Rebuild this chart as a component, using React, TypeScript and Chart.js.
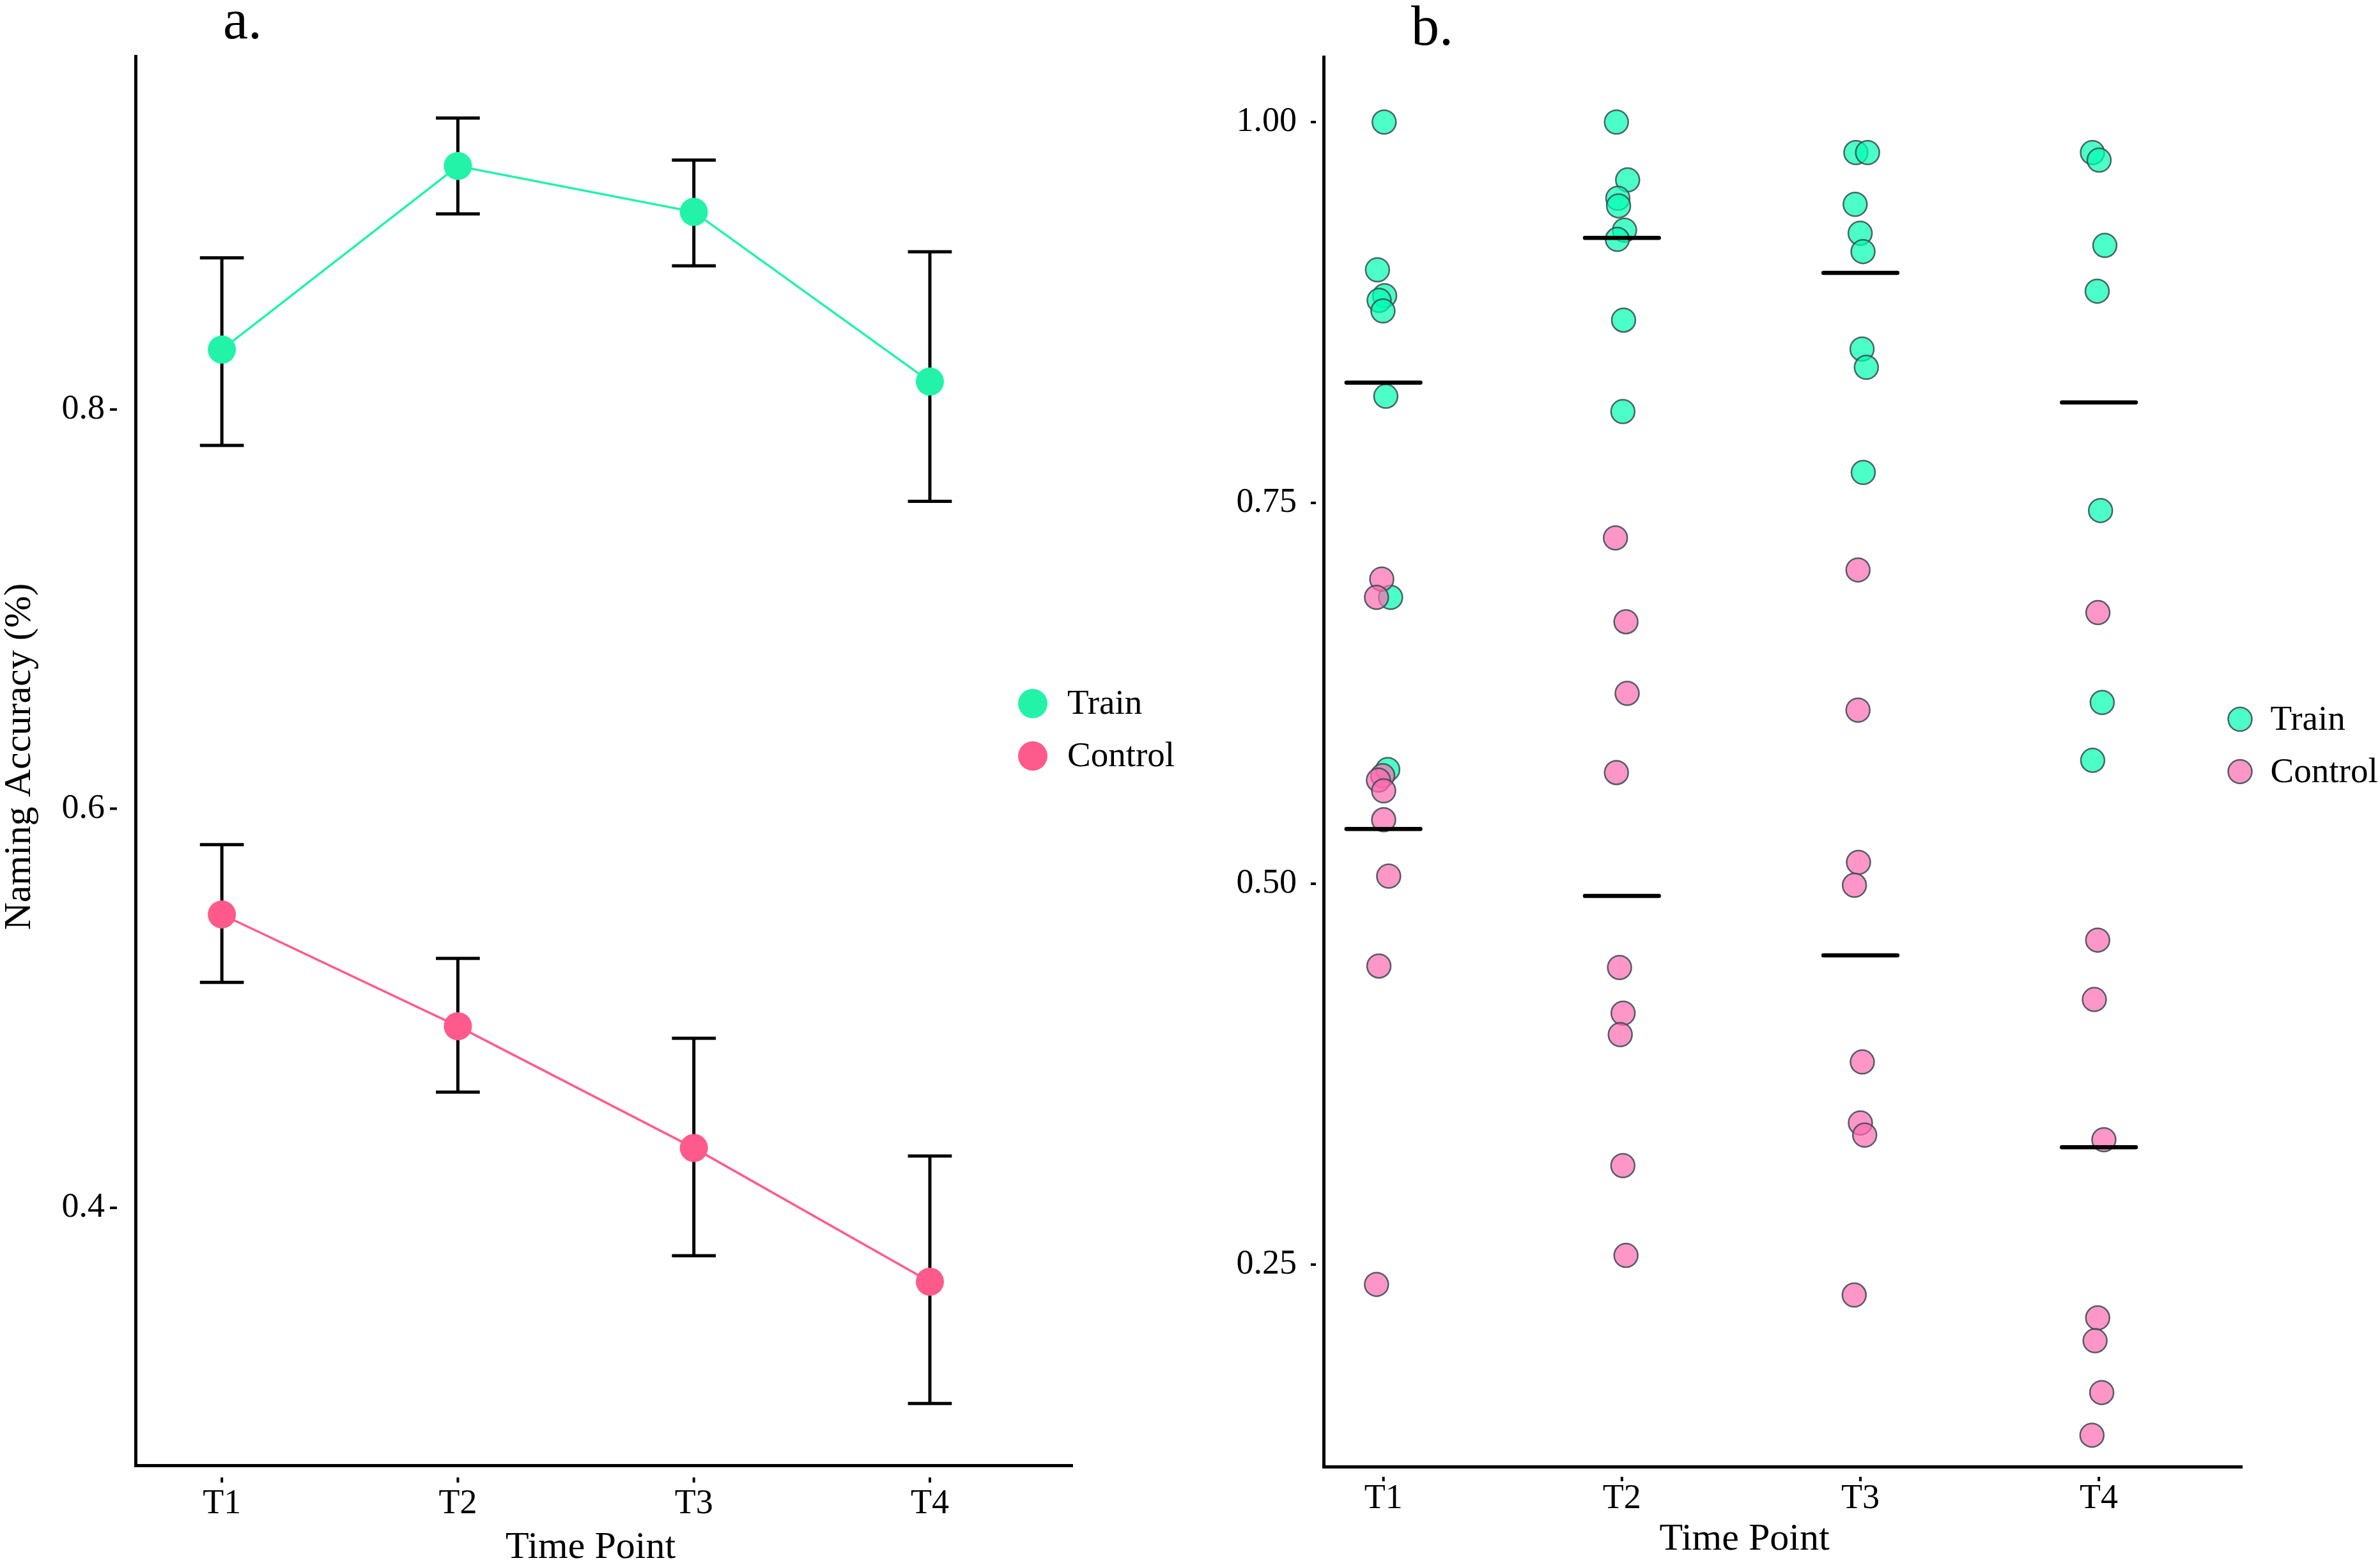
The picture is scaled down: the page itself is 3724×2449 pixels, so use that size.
import React, { useEffect, useRef } from 'react';
import { Chart, registerables } from 'chart.js';

Chart.register(...registerables);

// ---------- shared ----------
const timePoints = ['T1', 'T2', 'T3', 'T4'];
const seriesNames = ['Train', 'Control'];

// ---------- panel a : means with error bars ----------
const trainMean = [0.830, 0.922, 0.899, 0.814];
const trainLower = [0.782, 0.898, 0.872, 0.754];
const trainUpper = [0.876, 0.946, 0.925, 0.879];
const controlMean = [0.547, 0.491, 0.430, 0.363];
const controlLower = [0.513, 0.458, 0.376, 0.302];
const controlUpper = [0.582, 0.525, 0.485, 0.426];
const panelAYTicks = [0.4, 0.6, 0.8];

// ---------- panel b : individual scores ----------
const trainT1 = [1.000, 0.903, 0.886, 0.883, 0.876, 0.820, 0.688, 0.575];
const trainT1Jitter = [0.003, -0.025, 0.005, -0.018, -0.002, 0.010, 0.030, 0.018];
const trainT2 = [1.000, 0.962, 0.950, 0.945, 0.929, 0.923, 0.870, 0.810];
const trainT2Jitter = [-0.023, 0.024, -0.017, -0.014, 0.011, -0.019, 0.007, 0.004];
const trainT3 = [0.980, 0.980, 0.946, 0.927, 0.915, 0.851, 0.839, 0.770];
const trainT3Jitter = [-0.019, 0.030, -0.022, -0.001, 0.011, 0.007, 0.025, 0.012];
const trainT4 = [0.980, 0.975, 0.919, 0.889, 0.745, 0.619, 0.581];
const trainT4Jitter = [-0.027, 0.001, 0.025, -0.007, 0.007, 0.014, -0.026];

const controlT1 = [0.700, 0.688, 0.571, 0.568, 0.561, 0.542, 0.505, 0.446, 0.237];
const controlT1Jitter = [-0.007, -0.029, -0.003, -0.021, 0.001, 0.001, 0.022, -0.019, -0.029];
const controlT2 = [0.727, 0.672, 0.625, 0.573, 0.445, 0.415, 0.401, 0.315, 0.256];
const controlT2Jitter = [-0.027, 0.017, 0.022, -0.023, -0.010, 0.005, -0.007, 0.004, 0.017];
const controlT3 = [0.706, 0.614, 0.514, 0.499, 0.383, 0.343, 0.335, 0.230];
const controlT3Jitter = [-0.010, -0.010, -0.008, -0.025, 0.008, 0.000, 0.018, -0.026];
const controlT4 = [0.678, 0.463, 0.424, 0.332, 0.215, 0.200, 0.166, 0.138];
const controlT4Jitter = [-0.004, -0.005, -0.019, 0.021, -0.005, -0.016, 0.012, -0.029];

const trainMeansB = [0.829, 0.924, 0.901, 0.816];
const controlMeansB = [0.536, 0.492, 0.453, 0.327];
const panelBYTicks = [0.25, 0.5, 0.75, 1.0];

// ---------- styles ----------
const FONT = '"Liberation Serif", "Times New Roman", serif';
const TRAIN_A = '#22F3A9';
const CONTROL_A = '#FF5A8B';
const TRAIN_B = 'rgba(0,255,176,0.7)';
const CONTROL_B = 'rgba(255,105,176,0.7)';
const EDGE_B = 'rgba(55,75,80,0.85)';

const toPoints = (vals: number[], jit: number[], t: number) =>
  vals.map((v, i) => ({ x: t + 1 + jit[i], y: v }));

function axisBits(opts: {
  dashFrom: number; dashTo: number; dotTop: number; dotBottom: number;
}) {
  return {
    id: 'axisBits',
    afterDraw(chart: any) {
      const { ctx, chartArea, scales } = chart;
      ctx.save();
      ctx.strokeStyle = '#000';
      ctx.lineWidth = 4;
      for (const t of scales.y.ticks) {
        const y = scales.y.getPixelForValue(t.value);
        ctx.beginPath();
        ctx.moveTo(chartArea.left - opts.dashFrom, y);
        ctx.lineTo(chartArea.left - opts.dashTo, y);
        ctx.stroke();
      }
      for (const t of scales.x.ticks) {
        const x = scales.x.getPixelForValue(t.value);
        ctx.beginPath();
        ctx.moveTo(x, chartArea.bottom + opts.dotTop);
        ctx.lineTo(x, chartArea.bottom + opts.dotBottom);
        ctx.stroke();
      }
      ctx.restore();
    },
  };
}

function textBits(opts: {
  letter: string; letterX: number; letterY: number;
  xTitleX: number; xTitleY: number;
  yTitle?: { x: number; y: number };
  legendX: number; legendY: number[]; legendR: number; textX: number;
  legendFill: string[]; legendEdge?: string;
}) {
  return {
    id: 'textBits',
    afterDraw(chart: any) {
      const { ctx } = chart;
      ctx.save();
      ctx.fillStyle = '#000';
      ctx.textAlign = 'left';
      ctx.textBaseline = 'alphabetic';
      ctx.font = `88px ${FONT}`;
      ctx.fillText(opts.letter, opts.letterX, opts.letterY);

      ctx.font = `60px ${FONT}`;
      ctx.textAlign = 'center';
      ctx.fillText('Time Point', opts.xTitleX, opts.xTitleY);

      if (opts.yTitle) {
        ctx.save();
        ctx.translate(opts.yTitle.x, opts.yTitle.y);
        ctx.rotate(-Math.PI / 2);
        ctx.fillText('Naming Accuracy (%)', 0, 0);
        ctx.restore();
      }

      ctx.font = `55px ${FONT}`;
      ctx.textAlign = 'left';
      ctx.textBaseline = 'middle';
      seriesNames.forEach((name, i) => {
        const cy = opts.legendY[i];
        ctx.beginPath();
        ctx.arc(opts.legendX, cy, opts.legendR, 0, Math.PI * 2);
        ctx.fillStyle = opts.legendFill[i];
        ctx.fill();
        if (opts.legendEdge) {
          ctx.lineWidth = 2.5;
          ctx.strokeStyle = opts.legendEdge;
          ctx.stroke();
        }
        ctx.fillStyle = '#000';
        ctx.fillText(name, opts.textX, cy + 2);
      });
      ctx.restore();
    },
  };
}

const errorBarPlugin = {
  id: 'errorBars',
  beforeDatasetsDraw(chart: any) {
    const { ctx, scales } = chart;
    const groups = [
      [trainLower, trainUpper],
      [controlLower, controlUpper],
    ];
    ctx.save();
    ctx.strokeStyle = '#000';
    ctx.lineWidth = 5;
    ctx.lineCap = 'butt';
    for (const [lo, hi] of groups) {
      lo.forEach((l, i) => {
        const h = hi[i];
        const x = scales.x.getPixelForValue(i + 1);
        const xl = scales.x.getPixelForValue(i + 1 - 0.093);
        const xr = scales.x.getPixelForValue(i + 1 + 0.093);
        const yl = scales.y.getPixelForValue(l);
        const yh = scales.y.getPixelForValue(h);
        ctx.beginPath();
        ctx.moveTo(x, yl);
        ctx.lineTo(x, yh);
        ctx.moveTo(xl, yl);
        ctx.lineTo(xr, yl);
        ctx.moveTo(xl, yh);
        ctx.lineTo(xr, yh);
        ctx.stroke();
      });
    }
    ctx.restore();
  },
};

const meanLinePlugin = {
  id: 'meanLines',
  afterDatasetsDraw(chart: any) {
    const { ctx, scales } = chart;
    ctx.save();
    ctx.strokeStyle = '#000';
    ctx.lineWidth = 6.5;
    ctx.lineCap = 'round';
    for (const means of [trainMeansB, controlMeansB]) {
      means.forEach((m, i) => {
        const y = scales.y.getPixelForValue(m);
        ctx.beginPath();
        ctx.moveTo(scales.x.getPixelForValue(i + 1 - 0.155), y);
        ctx.lineTo(scales.x.getPixelForValue(i + 1 + 0.155), y);
        ctx.stroke();
      });
    }
    ctx.restore();
  },
};

function baseScales(o: {
  xMin: number; xMax: number; yMin: number; yMax: number;
  yTicks: number[]; yDigits: number; yPad: number; xPad: number; yWidth: number;
}) {
  return {
    x: {
      type: 'linear',
      min: o.xMin,
      max: o.xMax,
      grid: { display: false, drawTicks: false },
      border: { display: true, color: '#000', width: 5 },
      afterBuildTicks: (s: any) => {
        s.ticks = timePoints.map((_, i) => ({ value: i + 1 }));
      },
      afterFit: (s: any) => {
        s.height = 100;
      },
      ticks: {
        color: '#000',
        padding: o.xPad,
        font: { family: FONT, size: 54 },
        autoSkip: false,
        maxRotation: 0,
        callback: (v: any) => timePoints[Math.round(Number(v)) - 1] ?? '',
      },
    },
    y: {
      type: 'linear',
      min: o.yMin,
      max: o.yMax,
      grid: { display: false, drawTicks: false },
      border: { display: true, color: '#000', width: 5 },
      afterBuildTicks: (s: any) => {
        s.ticks = o.yTicks.map((v) => ({ value: v }));
      },
      afterFit: (s: any) => {
        s.width = o.yWidth;
      },
      ticks: {
        color: '#000',
        padding: o.yPad,
        font: { family: FONT, size: 54 },
        callback: (v: any) => Number(v).toFixed(o.yDigits),
      },
    },
  };
}

export default function App() {
  const refA = useRef<HTMLCanvasElement>(null);
  const refB = useRef<HTMLCanvasElement>(null);

  useEffect(() => {
    document.body.style.margin = '0';
    const chartA = new Chart(refA.current as HTMLCanvasElement, {
      type: 'line',
      data: {
        datasets: [
          {
            label: seriesNames[0],
            data: trainMean.map((v, i) => ({ x: i + 1, y: v })),
            borderColor: TRAIN_A,
            backgroundColor: TRAIN_A,
            pointBackgroundColor: TRAIN_A,
            borderWidth: 3.5,
            pointRadius: 22,
            pointBorderWidth: 0,
            tension: 0,
          },
          {
            label: seriesNames[1],
            data: controlMean.map((v, i) => ({ x: i + 1, y: v })),
            borderColor: CONTROL_A,
            backgroundColor: CONTROL_A,
            pointBackgroundColor: CONTROL_A,
            borderWidth: 3.5,
            pointRadius: 22,
            pointBorderWidth: 0,
            tension: 0,
          },
        ],
      },
      options: {
        responsive: false,
        animation: false,
        devicePixelRatio: 1,
        layout: { padding: { left: 0, top: 88, right: 222, bottom: 56 } },
        plugins: { legend: { display: false }, tooltip: { enabled: false }, title: { display: false } },
        scales: baseScales({
          xMin: 0.634, xMax: 4.604, yMin: 0.271, yMax: 0.977,
          yTicks: panelAYTicks, yDigits: 1, yPad: 48, xPad: 28, yWidth: 212,
        }) as any,
      },
      plugins: [
        errorBarPlugin,
        axisBits({ dashFrom: 40, dashTo: 29, dotTop: 19, dotBottom: 27 }),
        textBits({
          letter: 'a.', letterX: 349, letterY: 60,
          xTitleX: 924, xTitleY: 2438,
          yTitle: { x: 47, y: 1184 },
          legendX: 1616, legendY: [1101, 1183], legendR: 23, textX: 1670,
          legendFill: [TRAIN_A, CONTROL_A],
        }),
      ],
    } as any);

    const chartB = new Chart(refB.current as HTMLCanvasElement, {
      type: 'scatter',
      data: {
        datasets: [
          {
            label: seriesNames[0],
            order: 1,
            data: [
              ...toPoints(trainT1, trainT1Jitter, 0),
              ...toPoints(trainT2, trainT2Jitter, 1),
              ...toPoints(trainT3, trainT3Jitter, 2),
              ...toPoints(trainT4, trainT4Jitter, 3),
            ],
            backgroundColor: TRAIN_B,
            borderColor: EDGE_B,
            pointRadius: 18.5,
            pointBorderWidth: 2.5,
          },
          {
            label: seriesNames[1],
            order: 0,
            data: [
              ...toPoints(controlT1, controlT1Jitter, 0),
              ...toPoints(controlT2, controlT2Jitter, 1),
              ...toPoints(controlT3, controlT3Jitter, 2),
              ...toPoints(controlT4, controlT4Jitter, 3),
            ],
            backgroundColor: CONTROL_B,
            borderColor: EDGE_B,
            pointRadius: 18.5,
            pointBorderWidth: 2.5,
          },
        ],
      },
      options: {
        responsive: false,
        animation: false,
        devicePixelRatio: 1,
        layout: { padding: { left: 0, top: 89, right: 216, bottom: 54 } },
        plugins: { legend: { display: false }, tooltip: { enabled: false }, title: { display: false } },
        scales: baseScales({
          xMin: 0.749, xMax: 4.6, yMin: 0.1174, yMax: 1.0428,
          yTicks: panelBYTicks, yDigits: 2, yPad: 42, xPad: 18, yWidth: 171,
        }) as any,
      },
      plugins: [
        meanLinePlugin,
        axisBits({ dashFrom: 20, dashTo: 12, dotTop: 16, dotBottom: 23 }),
        textBits({
          letter: 'b.', letterX: 308, letterY: 70,
          xTitleX: 829.5, xTitleY: 2425,
          legendX: 1605, legendY: [1125.5, 1207.4], legendR: 18.5, textX: 1652.6,
          legendFill: [TRAIN_B, CONTROL_B], legendEdge: EDGE_B,
        }),
      ],
    } as any);

    return () => {
      chartA.destroy();
      chartB.destroy();
    };
  }, []);

  return (
    <div style={{ position: 'relative', width: 3724, height: 2449, background: '#fff', overflow: 'hidden' }}>
      <canvas
        ref={refA}
        width={1900}
        height={2449}
        style={{ position: 'absolute', left: 0, top: 0, width: 1900, height: 2449 }}
      />
      <canvas
        ref={refB}
        width={1824}
        height={2449}
        style={{ position: 'absolute', left: 1900, top: 0, width: 1824, height: 2449 }}
      />
    </div>
  );
}
